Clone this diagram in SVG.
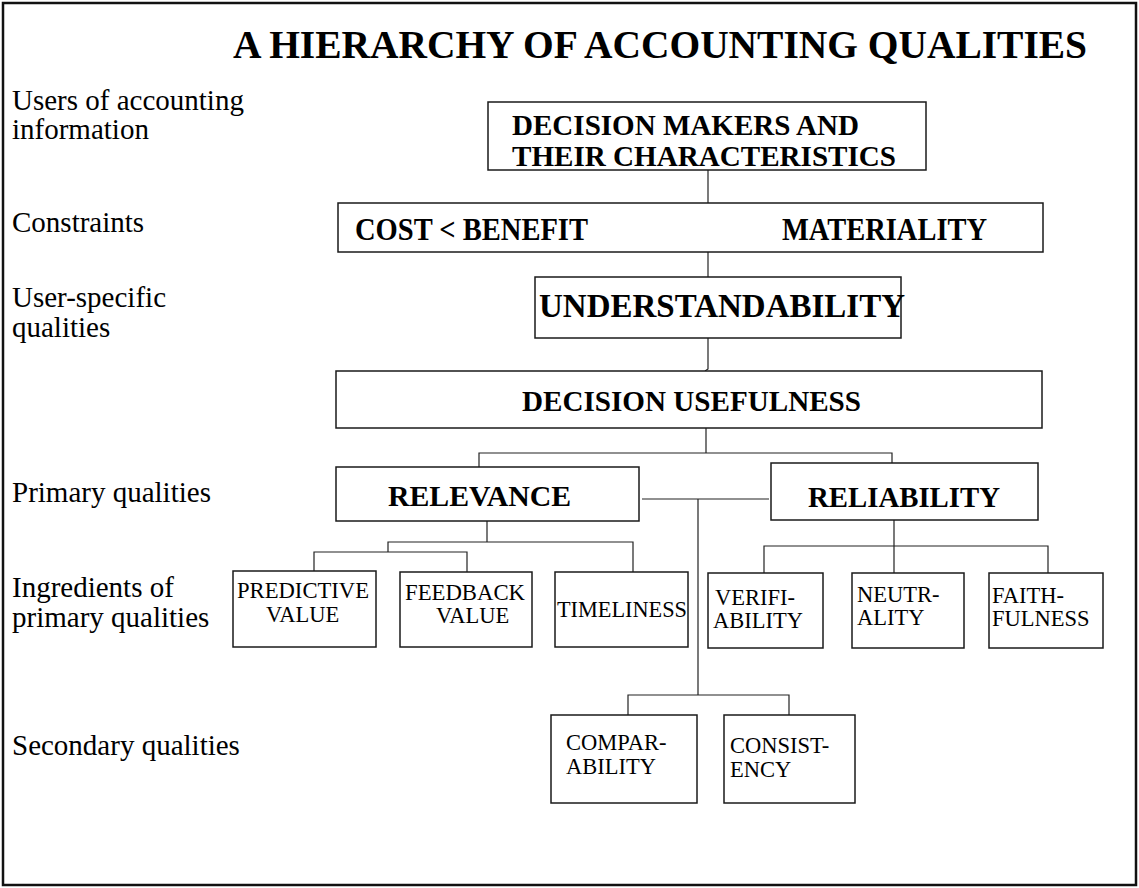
<svg xmlns="http://www.w3.org/2000/svg" width="1139" height="888" viewBox="0 0 1139 888" font-family="'Liberation Serif', 'Times New Roman', Times, serif">
<style>
.frame{fill:#fff;stroke:#111;stroke-width:2.5}
.box{fill:#fff;stroke:#1a1a1a;stroke-width:1.5}
.conn{fill:none;stroke:#222;stroke-width:1.2}
.t{fill:#000}
.lbl{font-size:29px}
.b{font-weight:bold;font-size:29px}
.sm{font-size:22.5px}
</style>
<rect class="frame" x="3" y="3" width="1133" height="882"/>
<text class="t b" x="233" y="58" style="font-size:40px" textLength="854" lengthAdjust="spacingAndGlyphs">A HIERARCHY OF ACCOUNTING QUALITIES</text>
<g id="row-labels">
<text class="t lbl" x="12" y="110">Users of accounting</text>
<text class="t lbl" x="12" y="139">information</text>
<text class="t lbl" x="12" y="232">Constraints</text>
<text class="t lbl" x="12" y="307">User-specific</text>
<text class="t lbl" x="12" y="337">qualities</text>
<text class="t lbl" x="12" y="502">Primary qualities</text>
<text class="t lbl" x="12" y="597">Ingredients of</text>
<text class="t lbl" x="12" y="627">primary qualities</text>
<text class="t lbl" x="12" y="755">Secondary qualities</text>
</g>
<g id="connectors">
<path class="conn" d="M708 170V203"/>
<path class="conn" d="M708 252V277"/>
<path class="conn" d="M708 338V369L705 371"/>
<path class="conn" d="M706 428V453M479 467V453H892V463"/>
<path class="conn" d="M487 521V542M633 572V542H388V552M314 572V552H467V572"/>
<path class="conn" d="M894 520V573M764 573V546H1048V573"/>
<path class="conn" d="M642 499H769M698 499V695M628 715V695H789V715"/>
</g>
<g id="decision-makers">
<rect class="box" x="488" y="102" width="438" height="68"/>
<text class="t b" x="512" y="135" style="font-size:29px" textLength="347" lengthAdjust="spacingAndGlyphs">DECISION MAKERS AND</text>
<text class="t b" x="512" y="166" style="font-size:29px" textLength="384" lengthAdjust="spacingAndGlyphs">THEIR CHARACTERISTICS</text>
</g>
<g id="constraints">
<rect class="box" x="338" y="203" width="705" height="49"/>
<text class="t b" x="355" y="240" style="font-size:31px" textLength="233" lengthAdjust="spacingAndGlyphs">COST &lt; BENEFIT</text>
<text class="t b" x="782" y="240" style="font-size:31px" textLength="205" lengthAdjust="spacingAndGlyphs">MATERIALITY</text>
</g>
<g id="understandability">
<rect class="box" x="535" y="277" width="366" height="61"/>
<text class="t b" x="539" y="317" style="font-size:34px" textLength="366" lengthAdjust="spacingAndGlyphs">UNDERSTANDABILITY</text>
</g>
<g id="decision-usefulness">
<rect class="box" x="336" y="371" width="706" height="57"/>
<text class="t b" x="522" y="411" textLength="339" lengthAdjust="spacingAndGlyphs">DECISION USEFULNESS</text>
</g>
<g id="relevance">
<rect class="box" x="336" y="467" width="303" height="54"/>
<text class="t b" x="388" y="506" style="font-size:30px" textLength="183" lengthAdjust="spacingAndGlyphs">RELEVANCE</text>
</g>
<g id="reliability">
<rect class="box" x="771" y="463" width="267" height="57"/>
<text class="t b" x="808" y="507" style="font-size:30px" textLength="192" lengthAdjust="spacingAndGlyphs">RELIABILITY</text>
</g>
<g id="predictive-value">
<rect class="box" x="233" y="571" width="143" height="76"/>
<text class="t sm" x="237" y="598" textLength="132" lengthAdjust="spacingAndGlyphs">PREDICTIVE</text>
<text class="t sm" x="266" y="622">VALUE</text>
</g>
<g id="feedback-value">
<rect class="box" x="400" y="572" width="132" height="75"/>
<text class="t sm" x="405" y="600" textLength="120" lengthAdjust="spacingAndGlyphs">FEEDBACK</text>
<text class="t sm" x="436" y="623">VALUE</text>
</g>
<g id="timeliness">
<rect class="box" x="555" y="572" width="133" height="75"/>
<text class="t sm" x="557" y="617" textLength="130" lengthAdjust="spacingAndGlyphs">TIMELINESS</text>
</g>
<g id="verifiability">
<rect class="box" x="708" y="573" width="115" height="75"/>
<text class="t sm" x="715" y="605">VERIFI-</text>
<text class="t sm" x="713" y="628">ABILITY</text>
</g>
<g id="neutrality">
<rect class="box" x="852" y="573" width="112" height="75"/>
<text class="t sm" x="857" y="602">NEUTR-</text>
<text class="t sm" x="857" y="625">ALITY</text>
</g>
<g id="faithfulness">
<rect class="box" x="989" y="573" width="114" height="75"/>
<text class="t sm" x="992" y="603">FAITH-</text>
<text class="t sm" x="992" y="626">FULNESS</text>
</g>
<g id="comparability">
<rect class="box" x="551" y="715" width="146" height="88"/>
<text class="t sm" x="566" y="750">COMPAR-</text>
<text class="t sm" x="566" y="774">ABILITY</text>
</g>
<g id="consistency">
<rect class="box" x="724" y="715" width="131" height="88"/>
<text class="t sm" x="730" y="753">CONSIST-</text>
<text class="t sm" x="730" y="777">ENCY</text>
</g>
</svg>
